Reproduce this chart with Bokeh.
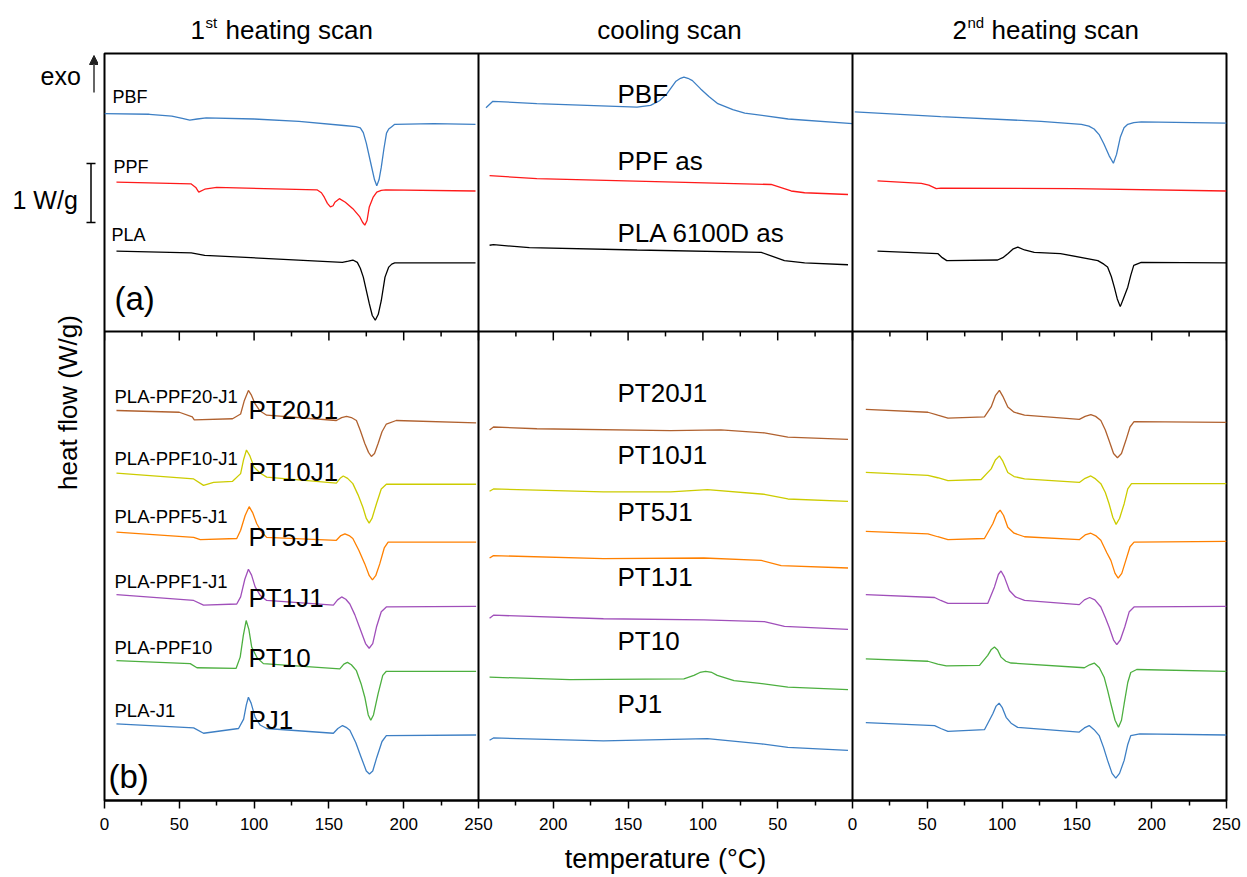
import math
from bokeh.plotting import figure
from bokeh.layouts import column, row
from bokeh.models import Range1d, FixedTicker, Span, Label, Arrow, TeeHead, NormalHead
from bokeh.embed import file_html
from bokeh.resources import INLINE

FONT = "Liberation Sans"

# ---------------- tick labels (shared x axis: 1st heating | cooling | 2nd heating) -------------
TICK_POS = [0, 50, 100, 150, 200, 250, 300, 350, 400, 450, 500, 550, 600, 650, 700, 750]
TICK_LABELS = ["0", "50", "100", "150", "200", "250", "200", "150", "100", "50",
               "0", "50", "100", "150", "200", "250"]
MINOR_POS = [25, 75, 125, 175, 225, 275, 325, 375, 425, 475, 525, 575, 625, 675, 725]

# ---------------- data: temperature (degC) and stacked heat flow (W/g) -------------------------
# (a) 1st heating
T_H1_PBF = [0, 30, 45, 52, 57, 62, 68, 100, 130, 160, 168, 171, 173, 175, 178, 180.5, 182, 183.5, 185, 186.8, 188.5, 190, 192, 194, 220, 248]
Y_H1_PBF = [11.64, 11.63, 11.60, 11.56, 11.53, 11.55, 11.57, 11.55, 11.51, 11.44, 11.42, 11.40, 11.32, 11.14, 10.80, 10.52, 10.42, 10.52, 10.73, 11.05, 11.31, 11.38, 11.42, 11.46, 11.47, 11.46]
T_H1_PPF = [8, 58, 61, 63, 67, 75, 142, 145, 147, 149, 151, 152.8, 154, 157, 161, 166, 170.7, 172.5, 174, 175.5, 177, 179.5, 182, 185, 188, 248]
Y_H1_PPF = [10.48, 10.45, 10.39, 10.31, 10.36, 10.39, 10.35, 10.30, 10.22, 10.12, 10.06, 10.08, 10.14, 10.20, 10.14, 10.03, 9.89, 9.80, 9.75, 9.83, 10.06, 10.22, 10.31, 10.34, 10.35, 10.33]
T_H1_PLA = [8, 58, 67, 159, 163, 166, 169, 171, 173, 177, 179, 181, 183, 185, 187.5, 190, 192, 194, 248]
Y_H1_PLA = [9.31, 9.28, 9.24, 9.12, 9.14, 9.16, 9.12, 9.02, 8.87, 8.42, 8.22, 8.14, 8.24, 8.47, 8.87, 9.04, 9.09, 9.11, 9.11]
# (a) cooling
T_C_PBF = [245, 240.4, 211, 144, 135, 129, 124, 118, 115, 112.7, 110, 107, 101.5, 96, 90, 80, 72, 43, 0]
Y_C_PBF = [11.74, 11.85, 11.81, 11.75, 11.78, 11.86, 11.98, 12.19, 12.24, 12.26, 12.24, 12.20, 12.06, 11.93, 11.81, 11.71, 11.65, 11.55, 11.47]
T_C_PPF = [242.6, 211, 54.4, 41, 32, 3]
Y_C_PPF = [10.59, 10.54, 10.44, 10.33, 10.30, 10.27]
T_C_PLA = [242.6, 240, 216, 144, 61, 45.5, 32, 3]
Y_C_PLA = [9.41, 9.42, 9.37, 9.33, 9.29, 9.15, 9.11, 9.08]
# (a) 2nd heating
T_H2_PBF = [1.5, 59, 126, 153, 158, 161.5, 165, 168, 171.5, 174.4, 176.5, 179, 181.5, 184, 188, 193, 250]
Y_H2_PBF = [11.67, 11.59, 11.51, 11.46, 11.43, 11.38, 11.28, 11.13, 10.93, 10.80, 10.95, 11.24, 11.40, 11.46, 11.49, 11.50, 11.48]
T_H2_PPF = [16.7, 46, 51, 56, 59, 148, 250]
Y_H2_PPF = [10.50, 10.46, 10.43, 10.37, 10.38, 10.37, 10.33]
T_H2_PLA = [16.7, 57, 60, 63, 97, 100.5, 104, 107.5, 110.5, 115, 121.5, 139, 164, 168, 170.5, 173, 175, 177, 179, 181, 184, 186, 188, 193, 250]
Y_H2_PLA = [9.31, 9.27, 9.20, 9.15, 9.16, 9.20, 9.27, 9.35, 9.38, 9.33, 9.29, 9.27, 9.15, 9.09, 9.04, 8.88, 8.70, 8.50, 8.37, 8.50, 8.70, 8.90, 9.07, 9.12, 9.11]

# (b) 1st heating
T_H1_PT20J1 = [8, 50, 58.7, 60, 85.6, 91, 93.5, 96.2, 98, 100.7, 104, 108.4, 155, 158.5, 161.8, 165, 168.4, 171, 174, 176.5, 178.4, 180.5, 182.9, 185.5, 188.4, 195, 248.4]
Y_H1_PT20J1 = [6.61, 6.58, 6.50, 6.45, 6.47, 6.55, 6.78, 6.95, 6.88, 6.72, 6.60, 6.53, 6.44, 6.49, 6.51, 6.49, 6.44, 6.27, 6.05, 5.90, 5.83, 5.88, 6.05, 6.25, 6.38, 6.44, 6.40]
T_H1_PT10J1 = [8, 59.6, 66.2, 72.9, 85.6, 91, 93, 94.9, 97, 100, 104, 108.4, 155, 157.5, 159.6, 162.5, 166, 169.5, 172.7, 175, 176.9, 178.8, 181.8, 185, 188.4, 248.4]
Y_H1_PT10J1 = [5.55, 5.45, 5.34, 5.39, 5.41, 5.54, 5.78, 5.94, 5.85, 5.65, 5.55, 5.48, 5.38, 5.46, 5.50, 5.46, 5.37, 5.18, 4.97, 4.78, 4.70, 4.78, 5.03, 5.28, 5.36, 5.36]
T_H1_PT5J1 = [8, 59.6, 64, 88.4, 91, 94, 96.7, 99, 101.8, 105, 108.4, 155, 158, 160.7, 163.5, 166, 170, 174, 177, 179.1, 181.3, 184, 187, 189.6, 248.4]
Y_H1_PT5J1 = [4.55, 4.46, 4.42, 4.44, 4.58, 4.83, 4.98, 4.88, 4.69, 4.55, 4.46, 4.41, 4.49, 4.52, 4.49, 4.44, 4.24, 4.01, 3.81, 3.74, 3.81, 4.01, 4.28, 4.38, 4.38]
T_H1_PT1J1 = [8, 59.6, 66.2, 88.4, 91, 93.8, 96.2, 98.3, 100.7, 104, 108.4, 153, 155.8, 158.5, 161.3, 164, 167.3, 170.4, 174.5, 176.9, 179.3, 181.8, 185, 188.4, 248.4]
Y_H1_PT1J1 = [3.49, 3.39, 3.31, 3.33, 3.45, 3.75, 3.92, 3.82, 3.62, 3.48, 3.39, 3.31, 3.40, 3.45, 3.41, 3.33, 3.15, 2.94, 2.66, 2.58, 2.66, 2.94, 3.20, 3.28, 3.29]
T_H1_PT10 = [8, 57.3, 61.8, 88, 90.7, 92.8, 94.7, 96.5, 98.4, 102, 106.2, 157.3, 160, 162.4, 165, 168.4, 171.5, 174, 176.3, 178, 179.8, 182.9, 186, 188.4, 248.4]
Y_H1_PT10 = [2.37, 2.32, 2.25, 2.24, 2.43, 2.80, 3.05, 2.90, 2.60, 2.42, 2.32, 2.23, 2.31, 2.34, 2.30, 2.20, 1.98, 1.75, 1.45, 1.36, 1.45, 1.81, 2.12, 2.19, 2.19]
T_H1_PJ1 = [8, 59.6, 66.2, 89.6, 93, 94.8, 96.2, 98, 100.7, 104, 108.4, 153, 156, 159.1, 161.5, 164, 168, 171.6, 175, 177.1, 179.3, 182, 185.5, 188.4, 248.4]
Y_H1_PJ1 = [1.30, 1.23, 1.14, 1.22, 1.38, 1.62, 1.75, 1.65, 1.41, 1.28, 1.22, 1.14, 1.22, 1.27, 1.24, 1.19, 0.98, 0.73, 0.50, 0.45, 0.50, 0.73, 1.00, 1.10, 1.11]
# (b) cooling
T_C_PT20J1 = [242.6, 240, 211, 121.6, 88, 58.9, 43.2, 3]
Y_C_PT20J1 = [6.28, 6.33, 6.30, 6.27, 6.28, 6.23, 6.16, 6.12]
T_C_PT10J1 = [242.6, 240, 166.5, 121.6, 97, 58.9, 43.2, 3]
Y_C_PT10J1 = [5.24, 5.28, 5.23, 5.23, 5.27, 5.19, 5.11, 5.07]
T_C_PT5J1 = [242.6, 240, 166.5, 99.3, 61, 47.7, 3]
Y_C_PT5J1 = [4.11, 4.15, 4.10, 4.11, 4.07, 3.98, 3.94]
T_C_PT1J1 = [242.6, 240, 166.5, 99.3, 58.9, 45.5, 3]
Y_C_PT1J1 = [3.09, 3.14, 3.08, 3.06, 3.03, 2.95, 2.90]
T_C_PT10 = [242.6, 188.9, 112.7, 106, 102, 98.2, 94, 90.4, 79.2, 63.5, 43.2, 3]
Y_C_PT10 = [2.09, 2.05, 2.06, 2.12, 2.17, 2.19, 2.17, 2.12, 2.03, 1.99, 1.92, 1.88]
T_C_PJ1 = [242.6, 240, 166.5, 97, 61, 43.2, 3]
Y_C_PJ1 = [1.02, 1.06, 1.01, 1.05, 0.96, 0.90, 0.85]
# (b) 2nd heating
T_H2_PT20J1 = [8.9, 50.4, 57, 63.8, 88.2, 92.7, 95.5, 98.2, 100.5, 103.8, 108, 115, 151.6, 155.5, 159.3, 162.5, 166, 169, 171.5, 174.5, 177.1, 179.8, 182.7, 185.5, 188.2, 250]
Y_H2_PT20J1 = [6.63, 6.58, 6.53, 6.48, 6.50, 6.67, 6.86, 6.95, 6.85, 6.67, 6.58, 6.53, 6.46, 6.51, 6.54, 6.51, 6.44, 6.28, 6.10, 5.88, 5.81, 5.88, 6.10, 6.33, 6.42, 6.41]
T_H2_PT10J1 = [8.9, 50.4, 57, 63.8, 86, 92.7, 95.5, 98.2, 100.5, 103.8, 108, 115, 151.6, 155.5, 159.3, 162.5, 166, 169, 171.5, 174, 176.2, 178.5, 181.6, 184, 186.5, 250]
Y_H2_PT10J1 = [5.56, 5.51, 5.47, 5.42, 5.44, 5.62, 5.77, 5.84, 5.75, 5.56, 5.49, 5.45, 5.39, 5.46, 5.50, 5.45, 5.37, 5.22, 5.03, 4.80, 4.68, 4.78, 5.03, 5.28, 5.37, 5.37]
T_H2_PT5J1 = [8.9, 50.4, 57, 63.8, 88.2, 93.8, 96.5, 98.7, 101, 103.8, 108, 115, 151.6, 155.5, 159.3, 162.5, 166, 170, 172.7, 175.5, 177.6, 180, 182.7, 185.5, 188.2, 250]
Y_H2_PT5J1 = [4.56, 4.52, 4.47, 4.42, 4.44, 4.69, 4.86, 4.92, 4.83, 4.63, 4.53, 4.47, 4.42, 4.50, 4.53, 4.49, 4.41, 4.20, 4.07, 3.85, 3.77, 3.85, 4.07, 4.30, 4.38, 4.39]
T_H2_PT1J1 = [8.9, 54.9, 59, 63.8, 90.4, 94.9, 97.5, 99.3, 101.5, 104.9, 109, 115, 151.6, 155, 158.5, 162, 166, 169, 171.5, 174.5, 176.7, 179, 182, 185, 188.2, 250]
Y_H2_PT1J1 = [3.49, 3.44, 3.39, 3.34, 3.34, 3.62, 3.83, 3.89, 3.79, 3.56, 3.45, 3.39, 3.32, 3.40, 3.44, 3.40, 3.28, 3.10, 2.94, 2.72, 2.64, 2.72, 2.94, 3.20, 3.28, 3.29]
T_H2_PT10 = [8.9, 50.4, 57, 62.7, 84.9, 90.4, 92.8, 94.9, 97, 99.3, 102.5, 106, 155, 158.5, 161.6, 165, 168.2, 170.5, 172.7, 175.5, 177.8, 179.8, 181.6, 184, 186, 190, 250]
Y_H2_PT10 = [2.40, 2.36, 2.31, 2.28, 2.29, 2.46, 2.56, 2.60, 2.55, 2.43, 2.36, 2.33, 2.25, 2.30, 2.33, 2.25, 2.09, 1.87, 1.64, 1.36, 1.24, 1.36, 1.64, 2.00, 2.17, 2.22, 2.19]
T_H2_PJ1 = [8.9, 54.9, 59, 63.8, 88.2, 93.8, 96, 98, 100, 102.7, 106, 110.4, 151.6, 155, 158.2, 161.5, 164.9, 167.8, 170.5, 173.5, 176, 178.5, 181.6, 184, 186, 192, 250]
Y_H2_PJ1 = [1.32, 1.27, 1.22, 1.17, 1.20, 1.47, 1.60, 1.65, 1.58, 1.41, 1.31, 1.24, 1.16, 1.23, 1.27, 1.20, 1.10, 0.90, 0.68, 0.46, 0.38, 0.46, 0.68, 0.95, 1.10, 1.13, 1.11]

# ---------------- styles ----------------
C_BLUE, C_RED, C_BLACK = "#3d7fc4", "#ff1a1a", "#000000"
C_BROWN, C_YELLOW, C_ORANGE, C_PURPLE, C_GREEN = "#b0612f", "#cccc00", "#ff8000", "#a04fba", "#4caf3f"

# ---------------- page geometry ----------------
W, H = 1247, 877
FL, FT, FR, FB = 104, 53, 1226, 800     # plot frame on the page (px)
LEFT_W, TOP_H = 98, 47                  # side strips for outer texts
Y_MAX = 12.66
X_MAX = 750
SPLIT = 7.95                            # W/g level separating panel (a) from panel (b)
SX = (FR - FL) / X_MAX
SY = (FB - FT) / Y_MAX
BASE = 0.33                             # baseline correction factor (em)

common = dict(output_backend="svg", toolbar_location=None, x_axis_location=None, y_axis_location=None,
              outline_line_color=None, background_fill_color="white", border_fill_color="white")

p = figure(width=W - LEFT_W, height=H - TOP_H, x_range=Range1d(0, X_MAX), y_range=Range1d(0, Y_MAX),
           output_backend="svg", toolbar_location=None, y_axis_location=None,
           min_border_left=FL - LEFT_W, min_border_right=W - FR, min_border_top=FT - TOP_H,
           min_border_bottom=H - FB,
           outline_line_color="black", outline_line_width=2,
           background_fill_color="white", border_fill_color="white")
p.grid.visible = False

ax = p.xaxis[0]
ax.ticker = FixedTicker(ticks=TICK_POS, minor_ticks=MINOR_POS)
ax.major_label_overrides = {t: lab for t, lab in zip(TICK_POS, TICK_LABELS)}
ax.major_label_text_font = FONT
ax.major_label_text_font_size = "17px"
ax.major_label_text_color = "black"
ax.major_label_standoff = 9
ax.axis_line_width = 2
ax.axis_line_color = "black"
ax.major_tick_line_color = "black"
ax.minor_tick_line_color = "black"
ax.major_tick_in, ax.major_tick_out = 0, 8
ax.minor_tick_in, ax.minor_tick_out = 0, 5
ax.major_tick_line_width = 1.5
ax.minor_tick_line_width = 1.5
ax.axis_label = "temperature (°C)"
ax.axis_label_text_font = FONT
ax.axis_label_text_font_size = "27px"
ax.axis_label_text_font_style = "normal"
ax.axis_label_text_color = "black"
ax.axis_label_standoff = 11

# panel separators
for loc in (250, 500):
    p.add_layout(Span(location=loc, dimension="height", line_color="black", line_width=2))
p.add_layout(Span(location=SPLIT, dimension="width", line_color="black", line_width=2))
# inward ticks on top edge of panel (b)
n = len(TICK_POS)
p.segment(x0=TICK_POS, y0=[SPLIT] * n, x1=TICK_POS, y1=[SPLIT - 9 / SY] * n, line_color="black", line_width=1.5)
m = len(MINOR_POS)
p.segment(x0=MINOR_POS, y0=[SPLIT] * m, x1=MINOR_POS, y1=[SPLIT - 5 / SY] * m, line_color="black", line_width=1.5)


def draw(Ts, Ys, color, scan):
    if scan == "h1":
        xs = [t for t in Ts]
    elif scan == "c":
        xs = [500 - t for t in Ts]
    else:
        xs = [500 + t for t in Ts]
    p.line(xs, Ys, line_color=color, line_width=1.3)


draw(T_H1_PBF, Y_H1_PBF, C_BLUE, "h1")
draw(T_H1_PPF, Y_H1_PPF, C_RED, "h1")
draw(T_H1_PLA, Y_H1_PLA, C_BLACK, "h1")
draw(T_C_PBF, Y_C_PBF, C_BLUE, "c")
draw(T_C_PPF, Y_C_PPF, C_RED, "c")
draw(T_C_PLA, Y_C_PLA, C_BLACK, "c")
draw(T_H2_PBF, Y_H2_PBF, C_BLUE, "h2")
draw(T_H2_PPF, Y_H2_PPF, C_RED, "h2")
draw(T_H2_PLA, Y_H2_PLA, C_BLACK, "h2")

draw(T_H1_PT20J1, Y_H1_PT20J1, C_BROWN, "h1")
draw(T_H1_PT10J1, Y_H1_PT10J1, C_YELLOW, "h1")
draw(T_H1_PT5J1, Y_H1_PT5J1, C_ORANGE, "h1")
draw(T_H1_PT1J1, Y_H1_PT1J1, C_PURPLE, "h1")
draw(T_H1_PT10, Y_H1_PT10, C_GREEN, "h1")
draw(T_H1_PJ1, Y_H1_PJ1, C_BLUE, "h1")
draw(T_C_PT20J1, Y_C_PT20J1, C_BROWN, "c")
draw(T_C_PT10J1, Y_C_PT10J1, C_YELLOW, "c")
draw(T_C_PT5J1, Y_C_PT5J1, C_ORANGE, "c")
draw(T_C_PT1J1, Y_C_PT1J1, C_PURPLE, "c")
draw(T_C_PT10, Y_C_PT10, C_GREEN, "c")
draw(T_C_PJ1, Y_C_PJ1, C_BLUE, "c")
draw(T_H2_PT20J1, Y_H2_PT20J1, C_BROWN, "h2")
draw(T_H2_PT10J1, Y_H2_PT10J1, C_YELLOW, "h2")
draw(T_H2_PT5J1, Y_H2_PT5J1, C_ORANGE, "h2")
draw(T_H2_PT1J1, Y_H2_PT1J1, C_PURPLE, "h2")
draw(T_H2_PT10, Y_H2_PT10, C_GREEN, "h2")
draw(T_H2_PJ1, Y_H2_PJ1, C_BLUE, "h2")

# ---------------- outer strips ----------------
top = figure(width=W, height=TOP_H, x_range=p.x_range, y_range=Range1d(0, TOP_H),
             min_border_left=FL, min_border_right=W - FR, min_border_top=0, min_border_bottom=0, **common)
top.grid.visible = False
left = figure(width=LEFT_W, height=H - TOP_H, x_range=Range1d(0, LEFT_W), y_range=p.y_range,
              min_border_left=0, min_border_right=0, min_border_top=FT - TOP_H, min_border_bottom=H - FB,
              **common)
left.grid.visible = False


def label(fig, text, px, py, size, align="left", baseline="alphabetic", angle=0.0):
    if baseline == "alphabetic":
        py = py - BASE * size
    if fig is p:
        x, y = (px - FL) / SX, (FB - py) / SY
    elif fig is left:
        x, y = px, (FB - py) / SY
    else:
        x, y = (px - FL) / SX, TOP_H - py
    fig.add_layout(Label(x=x, y=y, text=text, text_font=FONT, text_font_size=f"{size}px",
                         text_align=align, text_baseline=baseline, angle=angle, text_color="black"))


# column titles
label(top, "1", 190, 38, 26)
label(top, "st", 205, 27, 15)
label(top, "heating scan", 225, 38, 26)
label(top, "cooling scan", 669, 38, 26, align="center")
label(top, "2", 952, 38, 26)
label(top, "nd", 967, 27, 15)
label(top, "heating scan", 991, 38, 26)

# y label
label(left, "heat flow (W/g)", 67, 402, 26, align="center", baseline="middle", angle=math.pi / 2)

# exo arrow and scale bar (left strip shares the W/g axis of the plot)
left.add_layout(Arrow(end=NormalHead(size=9, fill_color="#222222", line_color="#222222"),
                      x_start=93.5, y_start=(FB - 92) / SY, x_end=93.5, y_end=(FB - 55) / SY,
                      line_color="#666666", line_width=2))
label(left, "exo", 40, 84, 25)
bar_y0 = (FB - 222) / SY
left.add_layout(Arrow(start=TeeHead(size=9, line_width=1.5), end=TeeHead(size=9, line_width=1.5),
                      x_start=90.5, y_start=bar_y0, x_end=90.5, y_end=bar_y0 + 1.0,
                      line_color="black", line_width=1.5))
label(left, "1 W/g", 12, 208, 25)

# panel letters
label(p, "(a)", 114, 309, 33)
label(p, "(b)", 108, 787, 33)

# sample names, panel (a)
label(p, "PBF", 112, 102, 18)
label(p, "PPF", 113, 172, 18)
label(p, "PLA", 111, 240, 18)
label(p, "PBF", 617, 102, 26)
label(p, "PPF as", 617, 169, 26)
label(p, "PLA 6100D as", 617, 241, 26)

# sample names, panel (b)
for txt, py in [("PLA-PPF20-J1", 402), ("PLA-PPF10-J1", 464), ("PLA-PPF5-J1", 522),
                ("PLA-PPF1-J1", 587), ("PLA-PPF10", 653), ("PLA-J1", 716)]:
    label(p, txt, 114, py, 18.5)
for txt, py in [("PT20J1", 418), ("PT10J1", 480), ("PT5J1", 545), ("PT1J1", 606), ("PT10", 666), ("PJ1", 728)]:
    label(p, txt, 248, py, 26)
for txt, py in [("PT20J1", 401), ("PT10J1", 463), ("PT5J1", 520), ("PT1J1", 585), ("PT10", 649), ("PJ1", 712)]:
    label(p, txt, 617, py, 26)

layout = column(top, row(left, p, spacing=0), spacing=0)
open("out.html", "w").write(file_html(layout, INLINE))
